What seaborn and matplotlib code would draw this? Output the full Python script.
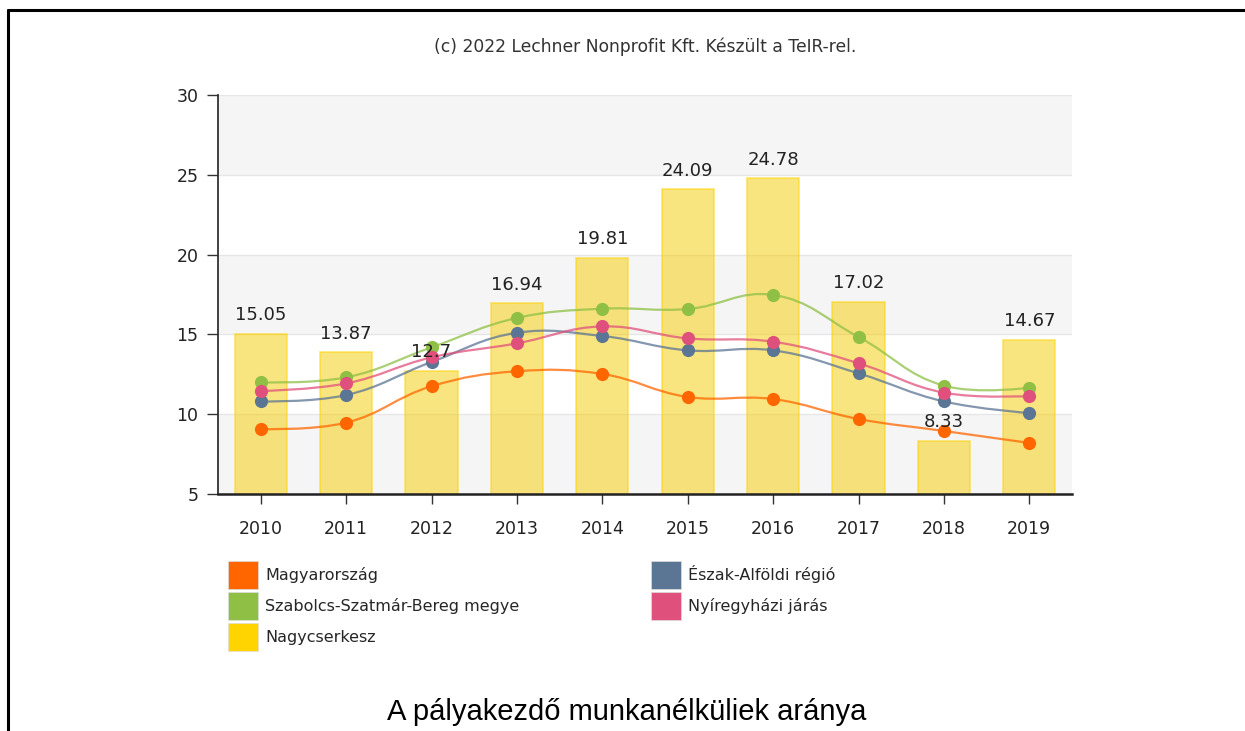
import numpy as np
import pandas as pd
import matplotlib
matplotlib.use("Agg")
import matplotlib.pyplot as plt
import seaborn as sns
from matplotlib.path import Path
from matplotlib.patches import PathPatch, Patch
from matplotlib.lines import Line2D

# Data
years = ["2010", "2011", "2012", "2013", "2014", "2015", "2016", "2017", "2018", "2019"]
nagycserkesz = [15.05, 13.87, 12.7, 16.94, 19.81, 24.09, 24.78, 17.02, 8.33, 14.67]
magyarorszag = [9.07, 9.47, 11.75, 12.69, 12.52, 11.08, 10.95, 9.7, 8.95, 8.2]
szabolcs = [12.0, 12.31, 14.19, 16.03, 16.61, 16.59, 17.47, 14.84, 11.79, 11.66]
eszak_alfold = [10.8, 11.2, 13.27, 15.1, 14.9, 14.0, 14.0, 12.56, 10.8, 10.07]
nyiregyhazi = [11.45, 11.93, 13.56, 14.44, 15.5, 14.75, 14.54, 13.19, 11.35, 11.14]

series = [
    ("Magyarország", magyarorszag, "#FF6600"),
    ("Észak-Alföldi régió", eszak_alfold, "#5B7594"),
    ("Szabolcs-Szatmár-Bereg megye", szabolcs, "#8FC045"),
    ("Nyíregyházi járás", nyiregyhazi, "#E0507C"),
]
bar_name = "Nagycserkesz"
bar_color = "#F5CC00"
bar_edge = "#FFD200"

sns.set_theme(style="white")
plt.rcParams["font.family"] = ["DejaVu Sans"]

fig = plt.figure(figsize=(12.45, 7.31), dpi=100)
ax = fig.add_axes([218 / 1245, 1 - 494 / 731, 854 / 1245, 399 / 731])

pos = np.arange(len(years))
ax.set_xlim(-0.5, len(years) - 0.5)
ax.set_ylim(5, 30)

# alternate background bands
for lo in (5, 15, 25):
    ax.axhspan(lo, lo + 5, color="#F5F5F5", zorder=0, lw=0)
ax.set_axisbelow(True)
ax.grid(True, color="#E6E6E6", lw=1, zorder=1)

df_bar = pd.DataFrame({"year": years, "value": nagycserkesz})
sns.barplot(data=df_bar, x="year", y="value", ax=ax, width=0.61, color=bar_color,
            saturation=1, alpha=0.5, edgecolor=bar_edge, linewidth=1.3, zorder=2)
for p, v in zip(pos, nagycserkesz):
    ax.annotate(f"{v:g}", (p, v), xytext=(0, 7), textcoords="offset points",
                ha="center", va="bottom", fontsize=13, color="#222222", zorder=6)

ax.set_xlim(-0.5, len(years) - 0.5)
ax.set_ylim(5, 30)
fig.canvas.draw()


def spline_path(xs, ys):
    # Highcharts-like spline, computed in pixel space
    pts = ax.transData.transform(np.column_stack([xs, ys]))
    n = len(pts)
    left = pts.copy()
    right = pts.copy()
    sm = 1.5
    for i in range(1, n - 1):
        px, py = pts[i]
        lx, ly = pts[i - 1]
        nx, ny = pts[i + 1]
        lcx, lcy = (sm * px + lx) / (sm + 1), (sm * py + ly) / (sm + 1)
        rcx, rcy = (sm * px + nx) / (sm + 1), (sm * py + ny) / (sm + 1)
        dl = np.hypot(lcx - px, lcy - py)
        dr = np.hypot(rcx - px, rcy - py)
        la = np.arctan2(lcy - py, lcx - px)
        ra = np.arctan2(rcy - py, rcx - px)
        ja = np.pi / 2 + (la + ra) / 2
        if abs(la - ja) > np.pi / 2:
            ja -= np.pi
        left[i] = (px + np.cos(ja) * dl, py + np.sin(ja) * dl)
        right[i] = (px + np.cos(np.pi + ja) * dr, py + np.sin(np.pi + ja) * dr)
    verts = [pts[0]]
    codes = [Path.MOVETO]
    for i in range(1, n):
        verts += [right[i - 1], left[i], pts[i]]
        codes += [Path.CURVE4] * 3
    inv = ax.transData.inverted()
    return Path(inv.transform(np.array(verts)), codes)


for name, vals, col in series:
    ax.add_patch(PathPatch(spline_path(pos, vals), fill=False, edgecolor=col,
                           lw=1.6, alpha=0.75, zorder=3))
    sns.scatterplot(x=pos, y=vals, ax=ax, color=col, s=90, linewidth=0, zorder=4)

ax.set_xticks(pos)
ax.set_xticklabels(years)
ax.set_yticks([5, 10, 15, 20, 25, 30])
ax.set_xlabel("")
ax.set_ylabel("")
ax.tick_params(axis="y", left=True, length=8, width=1, color="#333333", pad=6,
               labelsize=12.5, labelcolor="#222222")
ax.tick_params(axis="x", bottom=True, length=7, width=1, color="#333333", pad=12,
               labelsize=12.5, labelcolor="#222222")
for s in ("top", "right"):
    ax.spines[s].set_visible(False)
ax.spines["left"].set_color("#333333")
ax.spines["left"].set_linewidth(1.3)
ax.spines["bottom"].set_color("#222222")
ax.spines["bottom"].set_linewidth(1.8)
ax.spines["left"].set_zorder(5)
ax.spines["bottom"].set_zorder(5)

# legend
lookup = {n: c for n, _, c in series}
order = ["Magyarország", "Szabolcs-Szatmár-Bereg megye", bar_name,
         "Észak-Alföldi régió", "Nyíregyházi járás"]
handles = []
for n in order:
    c = lookup.get(n, "#FFD400")
    handles.append(Patch(facecolor=c, edgecolor="#dddddd", lw=0.5, label=n))
fig.legend(handles=handles, loc="upper left", bbox_to_anchor=(228 / 1245, 1 - 561 / 731),
           ncol=2, frameon=False, fontsize=11.5, handlelength=1.88, handleheight=2.3,
           labelspacing=0.2, handletextpad=0.45, columnspacing=8.25, borderpad=0,
           borderaxespad=0)

fig.text(645 / 1245, 1 - 47 / 731, "(c) 2022 Lechner Nonprofit Kft. Készült a TeIR-rel.",
         ha="center", va="center", fontsize=12.3, color="#333333")
fig.text(627 / 1245, 1 - 712 / 731, "A pályakezdő munkanélküliek aránya",
         ha="center", va="center", fontsize=21, family="Liberation Sans", color="black")

# frame lines (top and left)
fig.add_artist(Line2D([8 / 1245, 1], [1 - 10 / 731] * 2, transform=fig.transFigure,
                      color="black", lw=2.2))
fig.add_artist(Line2D([8 / 1245] * 2, [0, 1 - 10 / 731], transform=fig.transFigure,
                      color="black", lw=2.2))

fig.savefig("out.png", dpi=100)
